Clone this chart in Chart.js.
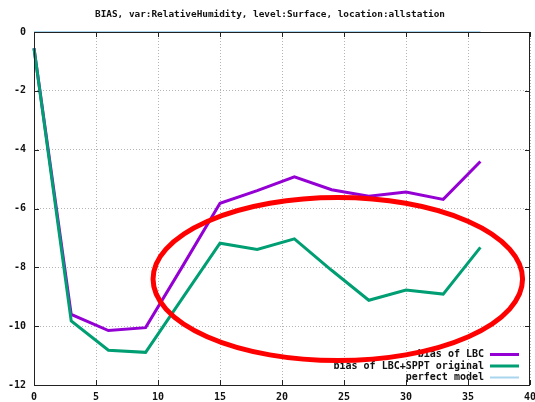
<!DOCTYPE html>
<html>
<head>
<meta charset="utf-8">
<script src="https://cdn.jsdelivr.net/npm/chart.js@4"></script>
<style>
  body { margin: 0; background: #fff; }
  canvas { display: block; }
</style>
</head>
<body>
<canvas id="bias" width="535" height="402"></canvas>
<script>
// forecast lead time (h)
var hours = [0, 3, 6, 9, 12, 15, 18, 21, 24, 27, 30, 33, 36];
var biasLBC = [-0.55, -9.6, -10.15, -10.05, -7.95, -5.82, -5.39, -4.92, -5.36, -5.58, -5.44, -5.69, -4.4];
var biasLBCSPPT = [-0.55, -9.82, -10.82, -10.89, -9.03, -7.18, -7.39, -7.03, -8.1, -9.12, -8.77, -8.91, -7.32];
var perfectModel = [0, 0, 0, 0, 0, 0, 0, 0, 0, 0, 0, 0, 0];
var seriesNames = ['bias of LBC', 'bias of LBC+SPPT original', 'perfect model'];
var xTicks = [0, 5, 10, 15, 20, 25, 30, 35, 40];
var yTicks = [-12, -10, -8, -6, -4, -2, 0];
var titleText = 'BIAS, var:RelativeHumidity, level:Surface, location:allstation';

var FONT = 'bold 10px "DejaVu Sans Mono", monospace';

function points(ys) {
  return hours.map(function(h, i) { return { x: h, y: ys[i] }; });
}

// frame with inward ticks, title, legend and the red ellipse
var decorations = {
  id: 'decorations',
  afterDatasetsDraw: function(chart) {
    var ctx = chart.ctx, a = chart.chartArea;
    var sx = chart.scales.x, sy = chart.scales.y;
    ctx.save();
    ctx.strokeStyle = '#222';
    ctx.lineWidth = 1;
    ctx.strokeRect(Math.round(a.left) + 0.5, Math.round(a.top) + 0.5,
                   Math.round(a.right - a.left) - 1, Math.round(a.bottom - a.top));
    ctx.beginPath();
    xTicks.forEach(function(v) {
      var px = Math.round(sx.getPixelForValue(v)) + 0.5;
      ctx.moveTo(px, a.bottom); ctx.lineTo(px, a.bottom - 5);
      ctx.moveTo(px, a.top); ctx.lineTo(px, a.top + 5);
    });
    yTicks.forEach(function(v) {
      var py = Math.round(sy.getPixelForValue(v)) + 0.5;
      ctx.moveTo(a.left, py); ctx.lineTo(a.left + 5, py);
      ctx.moveTo(a.right, py); ctx.lineTo(a.right - 5, py);
    });
    ctx.stroke();

    // title
    ctx.fillStyle = '#111';
    ctx.font = 'bold 9.4px "DejaVu Sans Mono", monospace';
    ctx.textAlign = 'center';
    ctx.textBaseline = 'middle';
    ctx.fillText(titleText, 270, 15);

    // legend, text left of sample line
    ctx.font = FONT;
    ctx.textAlign = 'right';
    chart.data.datasets.forEach(function(ds, i) {
      var y = a.bottom - 30.5 + i * 11.5;
      ctx.fillStyle = '#111';
      ctx.fillText(ds.label, a.right - 46, y);
      ctx.strokeStyle = ds.borderColor;
      ctx.lineWidth = ds.borderWidth;
      ctx.beginPath();
      ctx.moveTo(a.right - 40, y);
      ctx.lineTo(a.right - 11, y);
      ctx.stroke();
    });

    // highlight ellipse, placed in data units
    var cx = sx.getPixelForValue(24.5), cy = sy.getPixelForValue(-8.4);
    var rx = sx.getPixelForValue(24.5 + 14.9) - cx;
    var ry = sy.getPixelForValue(-8.4 - 2.77) - cy;
    ctx.strokeStyle = '#ff0000';
    ctx.lineWidth = 5;
    ctx.beginPath();
    ctx.ellipse(cx, cy, rx, ry, 0, 0, Math.PI * 2);
    ctx.stroke();
    ctx.restore();
  }
};

var tickFont = { family: '"DejaVu Sans Mono", monospace', size: 10, weight: 'bold' };

var chart = new Chart(document.getElementById('bias').getContext('2d'), {
  type: 'line',
  data: {
    datasets: [{
      label: seriesNames[0],
      data: points(biasLBC),
      borderColor: '#9400d3',
      borderWidth: 3,
      order: 2
    }, {
      label: seriesNames[1],
      data: points(biasLBCSPPT),
      borderColor: '#009e73',
      borderWidth: 3,
      order: 1
    }, {
      label: seriesNames[2],
      data: points(perfectModel),
      borderColor: '#a8d6ef',
      borderWidth: 2,
      order: 0
    }]
  },
  options: {
    responsive: false,
    animation: false,
    clip: false,
    layout: { autoPadding: false, padding: { top: 32, left: 0, right: 5, bottom: 0 } },
    elements: { point: { radius: 0 }, line: { tension: 0 } },
    plugins: { legend: { display: false }, title: { display: false }, tooltip: { enabled: false } },
    scales: {
      x: {
        type: 'linear',
        min: 0, max: 40,
        afterFit: function(s) { s.height = 17; s.paddingLeft = 0; s.paddingRight = 0; },
        afterBuildTicks: function(s) { s.ticks = xTicks.map(function(v) { return { value: v }; }); },
        border: { display: false, dash: [1, 2] },
        grid: { color: '#b4b4b4', drawTicks: false },
        ticks: { padding: 6, color: '#111', font: tickFont, maxRotation: 0 }
      },
      y: {
        min: -12, max: 0,
        afterFit: function(s) { s.width = 34; s.paddingTop = 0; s.paddingBottom = 0; },
        afterBuildTicks: function(s) { s.ticks = yTicks.map(function(v) { return { value: v }; }); },
        border: { display: false, dash: [1, 2] },
        grid: { color: '#b4b4b4', drawTicks: false },
        ticks: { padding: 8, color: '#111', font: tickFont }
      }
    }
  },
  plugins: [decorations]
});
</script>
</body>
</html>
